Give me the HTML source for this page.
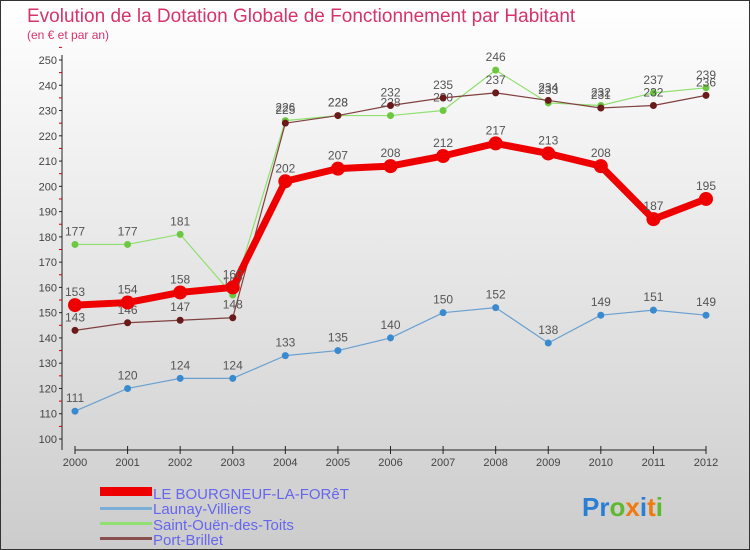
<!DOCTYPE html>
<html><head><meta charset="utf-8"><style>
body{margin:0;width:750px;height:550px;overflow:hidden;font-family:"Liberation Sans",sans-serif}
#c{position:absolute;left:0;top:0;width:748px;height:548px;border:1px solid #333;background:linear-gradient(#fff,#ccc)}
</style></head><body>
<div id="c">
<svg width="750" height="550" id="svg" style="position:absolute;left:-1px;top:-1px">
<text x="27" y="22" font-size="19" fill="#d6336c">Evolution de la Dotation Globale de Fonctionnement par Habitant</text>
<text x="27" y="39" font-size="12" fill="#d6336c">(en € et par an)</text>
<g id="axes"></g><g id="series"></g>
<g font-size="15" fill="#6666ee">
<rect x="100" y="487" width="52" height="9" fill="#e00"/>
<text x="153" y="499">LE BOURGNEUF-LA-FORêT</text>
<rect x="100" y="507" width="52" height="3" fill="#7aaed6"/>
<text x="153" y="514">Launay-Villiers</text>
<rect x="100" y="522" width="52" height="3" fill="#8fe070"/>
<text x="153" y="530">Saint-Ouën-des-Toits</text>
<rect x="100" y="537" width="52" height="3" fill="#8a5050"/>
<text x="153" y="545">Port-Brillet</text>
</g>
<text x="582" y="516" font-size="26" font-weight="bold"><tspan fill="#2a7fd4">Pr</tspan><tspan fill="#5fb830">o</tspan><tspan fill="#f07a10">x</tspan><tspan fill="#2a7fd4">i</tspan><tspan fill="#f07a10">t</tspan><tspan fill="#5fb830">i</tspan></text>
</svg></div>
<script>
const years=[2000,2001,2002,2003,2004,2005,2006,2007,2008,2009,2010,2011,2012];
const bourgneuf=[153,154,158,160,202,207,208,212,217,213,208,187,195];
const launay=[111,120,124,124,133,135,140,150,152,138,149,151,149];
const saintOuen=[177,177,181,157,226,228,228,230,246,233,232,237,239];
const portBrillet=[143,146,147,148,225,228,232,235,237,234,231,232,236];
const yTicks=[100,110,120,130,140,150,160,170,180,190,200,210,220,230,240,250];
const NS="http://www.w3.org/2000/svg";
const X=i=>75+i*(706-75)/(years.length-1);
const Y=v=>439-(v-100)*(439-60)/150;
function mk(t,a,p){const e=document.createElementNS(NS,t);for(const k in a)e.setAttribute(k,a[k]);p.appendChild(e);return e;}
const ax=document.getElementById('axes'),sg=document.getElementById('series');
let yl=mk('line',{x1:62,y1:55,x2:62,y2:450,stroke:'#222'},ax);


yTicks.forEach(v=>{
 mk('line',{x1:59,x2:62,y1:Y(v),y2:Y(v),stroke:'#222'},ax);
 mk('line',{x1:59,x2:62,y1:Y(v+5),y2:Y(v+5),stroke:'#c00'},ax);
 const t=mk('text',{x:57,y:Y(v)+4,'text-anchor':'end','font-size':11,fill:'#444'},ax);t.textContent=v;
 
 
});
let xl=mk('line',{x1:75,y1:450,x2:706,y2:450,stroke:'#222'},ax);


years.forEach((y,i)=>{
 mk('line',{x1:X(i),x2:X(i),y1:446,y2:454,stroke:'#222'},ax);
 const t=mk('text',{x:X(i),y:466,'text-anchor':'middle','font-size':11,fill:'#444'},ax);t.textContent=y;
 
 
});
function series(d,col,dot,w,r,name){
 const g=mk('g',{},sg);
 
 
 mk('polyline',{points:d.map((v,i)=>X(i)+','+Y(v)).join(' '),fill:'none',stroke:col,'stroke-width':w,'stroke-linejoin':'round'},g);
 d.forEach((v,i)=>{
  const c=mk('circle',{cx:X(i),cy:Y(v),r:r,fill:dot},g);
  
  
  const t=mk('text',{x:X(i),y:Y(v)-9,'text-anchor':'middle','font-size':12,fill:'#555'},g);t.textContent=v;
  
  
 });
}
series(launay,'#6aa0d0','#3a8ad0',1.2,3.5,'launay');
series(saintOuen,'#90e070','#6cc840',1.2,3.5,'saint-ouen');
series(portBrillet,'#804040','#6a1a1a',1.2,3.5,'port-brillet');
series(bourgneuf,'#ee0000','#ee0000',7,7,'bourgneuf');
</script>
</body></html>
